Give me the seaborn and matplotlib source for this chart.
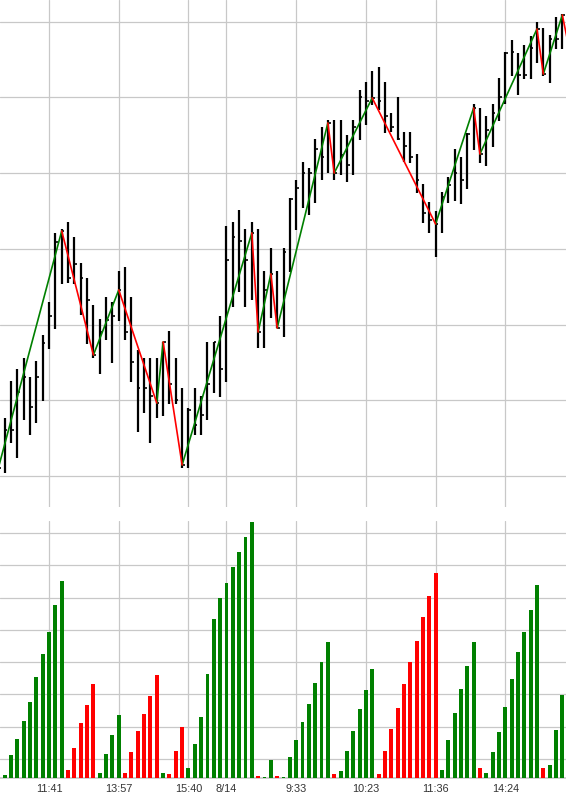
import numpy as np
import pandas as pd
import matplotlib
matplotlib.use("Agg")
import matplotlib.pyplot as plt
import seaborn as sns

# ---------------- data ----------------
tick_pos = [8, 19, 30, 36, 47, 58, 69, 80]
tick_labels = ["11:41", "13:57", "15:40", "8/14", "9:33", "10:23", "11:36", "14:24"]

highs = [51, 58, 95, 107, 118, 99, 115, 141, 174, 243,
         247, 254, 239, 213, 198, 171, 157, 179, 174, 205,
         209, 179, 126, 118, 118, 118, 134, 145, 118, 88,
         68, 88, 80, 134, 134, 160, 250, 254, 266, 247,
         254, 247, 205, 228, 205, 228, 278, 296, 314, 308,
         337, 349, 356, 356, 356, 341, 356, 386, 394, 405,
         409, 394, 363, 379, 344, 344, 322, 292, 274, 265,
         284, 299, 327, 319, 343, 372, 368, 360, 372, 398,
         424, 436, 423, 431, 440, 454, 448, 441, 459, 462,
         462]
lows = [6, 3, 33, 18, 56, 41, 53, 75, 127, 147,
        192, 193, 192, 161, 132, 118, 102, 136, 113, 155,
        136, 94, 44, 63, 33, 58, 60, 72, 72, 8,
        8, 41, 41, 56, 83, 79, 94, 169, 184, 169,
        176, 128, 128, 158, 148, 139, 204, 246, 268, 261,
        273, 296, 303, 296, 301, 294, 301, 336, 351, 371,
        366, 343, 344, 336, 314, 313, 283, 253, 243, 219,
        243, 273, 275, 272, 287, 326, 313, 310, 329, 355,
        372, 400, 381, 397, 397, 413, 400, 393, 427, 427,
        425]
closes = [8, 46, 46, 84, 99, 69, 99, 133, 160, 234,
          245, 198, 212, 198, 176, 121, 144, 156, 160, 186,
          144, 114, 88, 88, 80, 73, 134, 92, 76, 11,
          66, 51, 61, 92, 134, 107, 216, 239, 235, 216,
          243, 144, 186, 202, 148, 224, 277, 288, 303, 303,
          327, 319, 353, 303, 321, 311, 349, 379, 375, 378,
          375, 360, 349, 337, 330, 319, 296, 263, 256, 252,
          279, 291, 303, 296, 342, 368, 322, 346, 363, 379,
          423, 424, 401, 401, 428, 447, 402, 437, 437, 461,
          430]
pivots = [0, 10, 15, 19, 25, 26, 29, 40, 41, 43, 44, 52, 53,
          59, 69, 75, 76, 85, 86, 89, 90]

volumes = [5, 3, 23, 39, 57, 76, 101, 124, 146, 173, 197,
           8, 30, 55, 73, 94,
           5, 24, 43, 63,
           5, 26, 47, 64, 82, 103,
           5, 4, 27, 51,
           10, 34, 61, 104, 159, 180, 195, 211, 226, 241, 256,
           2, 1, 18, 2, 1, 21, 38, 56, 74, 95, 116, 136,
           4, 7, 27, 47, 69, 88, 109,
           4, 27, 49, 70, 94, 116, 137, 161, 182, 205,
           8, 38, 65, 89, 112, 136,
           10, 5, 26, 46, 71, 99, 126, 146, 168, 193,
           10, 13, 48, 83]
vol_dir = list("r" + "gggggggggg" + "rrrrr" + "gggg" + "rrrrrr" + "g" + "rrr"
               + "ggggggggggg" + "r" + "gg" + "r" + "gggggggg" + "r" + "gggggg"
               + "rrrrrrrrrr" + "gggggg" + "r" + "ggggggggg" + "r" + "ggg")

GREEN = "#008000"
RED = "#ff0000"
GRID = "#c8c8c8"

# ---------------- style ----------------
sns.set_theme(style="white")
plt.rcParams["font.family"] = ["Liberation Sans", "DejaVu Sans"]

fig = plt.figure(figsize=(5.66, 7.94), dpi=100)
ax1 = fig.add_axes([0.0, 0.3615, 1.0, 0.6385])
ax2 = fig.add_axes([0.0, 0.0205, 1.0, 0.3233])

# ---------------- price panel ----------------
idx = np.arange(len(highs))
ax1.vlines(idx, lows, highs, color="black", lw=1.6, zorder=3)
ax1.hlines(closes, idx, idx + 0.42, color="black", lw=1.2, zorder=3)

rows = []
for k in range(len(pivots) - 1):
    p0, p1 = pivots[k], pivots[k + 1]
    d = "up" if closes[p1] > closes[p0] else "down"
    rows.append({"seg": k, "x": p0, "y": closes[p0], "dir": d})
    rows.append({"seg": k, "x": p1, "y": closes[p1], "dir": d})
zz = pd.DataFrame(rows)
sns.lineplot(data=zz, x="x", y="y", hue="dir", units="seg", estimator=None,
             palette={"up": GREEN, "down": RED}, legend=False, sort=False,
             lw=1.2, ax=ax1, zorder=4)

ax1.set_xlim(0.26, 89.58)
ax1.set_ylim(-31, 476)
ax1.set_xticks(tick_pos)
ax1.set_yticks(np.arange(0, 476, 75.73))
ax1.tick_params(labelbottom=False, labelleft=False, length=0)
ax1.set_xlabel("")
ax1.set_ylabel("")
ax1.grid(True, color=GRID, lw=0.9)
ax1.set_axisbelow(True)
for s in ax1.spines.values():
    s.set_visible(False)

# ---------------- volume panel ----------------
vol_df = pd.DataFrame({"i": np.arange(len(volumes)), "v": volumes, "dir": vol_dir})
sns.barplot(data=vol_df, x="i", y="v", hue="dir", palette={"g": GREEN, "r": RED},
            native_scale=True, width=0.62, dodge=False, legend=False,
            saturation=1, linewidth=0, ax=ax2, zorder=3)

ax2.set_xlim(0.26, 89.58)
ax2.set_ylim(0, 256.7)
ax2.set_xticks(tick_pos)
ax2.set_xticklabels(tick_labels)
ax2.set_yticks(np.arange(18.7, 256, 32.3))
ax2.tick_params(axis="y", labelleft=False, length=0)
ax2.tick_params(axis="x", length=3, width=0.9, color=GRID, pad=1.2,
                labelsize=7.8, labelcolor="#333333")
ax2.set_xlabel("")
ax2.set_ylabel("")
ax2.grid(True, color=GRID, lw=0.9)
ax2.set_axisbelow(True)
for name, s in ax2.spines.items():
    if name == "bottom":
        s.set_color(GRID)
        s.set_linewidth(1.2)
    else:
        s.set_visible(False)

fig.savefig("out.png", dpi=100)
